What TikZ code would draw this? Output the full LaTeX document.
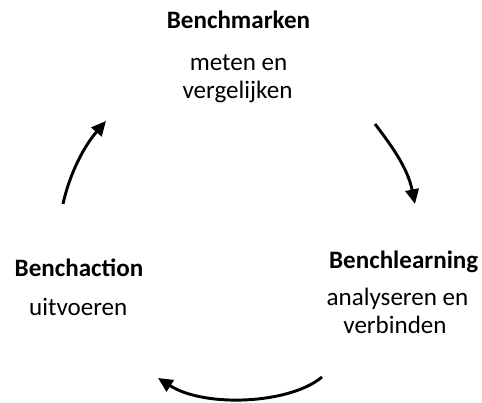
\documentclass[tikz,border=0pt]{standalone}
\usepackage{fontspec}
\setmainfont{Carlito}
\usetikzlibrary{arrows.meta}
\begin{document}
\begin{tikzpicture}[x=0.75pt,y=-0.75pt,
  txt/.style={inner sep=0pt,anchor=base,font=\fontsize{18.8pt}{22pt}\selectfont},
  ttl/.style={txt,font=\fontsize{18.8pt}{22pt}\selectfont\bfseries},
  cyc/.style={line width=2.2pt,-{Triangle[length=11pt,width=10pt]}}]
\useasboundingbox (0,0) rectangle (482,403);
\node[ttl] (bm) at (238.5,29) {Benchmarken};
\node[txt] (bm1) at (238.5,71) {meten en};
\node[txt] (bm2) at (237.5,98.3) {vergelijken};
\node[ttl] (bl) at (403.7,268.3) {Benchlearning};
\node[txt] (bl1) at (397.5,305) {analyseren en};
\node[txt] (bl2) at (395,333.5) {verbinden};
\node[ttl] (ba) at (79,276.7) {Benchaction};
\node[txt] (ba1) at (78.3,315.7) {uitvoeren};
\coordinate (a1s) at (375,124);
\coordinate (a1e) at (415,204);
\coordinate (a2s) at (322,377);
\coordinate (a2e) at (158,378);
\coordinate (a3s) at (63,204);
\coordinate (a3e) at (106,121);
\draw[cyc] (a1s) .. controls (395,150) and (408,170) .. (a1e);
\draw[cyc] (a2s) .. controls (290,404) and (205,408) .. (a2e);
\draw[cyc] (a3s) .. controls (70,172) and (85,145) .. (a3e);
\end{tikzpicture}
\end{document}
